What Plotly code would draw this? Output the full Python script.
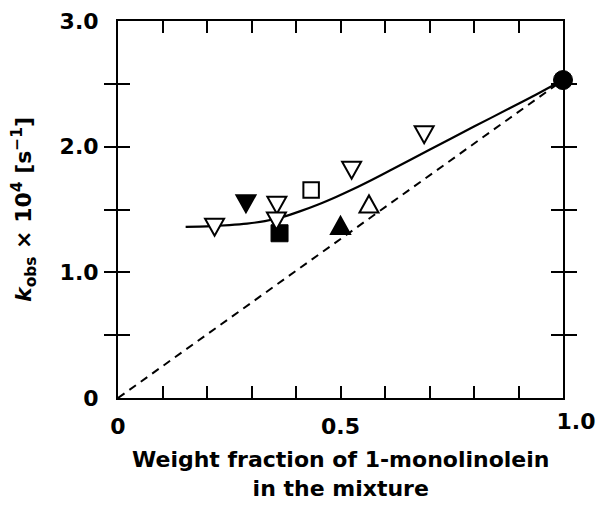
import plotly.graph_objects as go

# ---------------- data ----------------
open_down_x = [0.217, 0.357, 0.356, 0.525, 0.688]
open_down_y = [1.382, 1.556, 1.431, 1.835, 2.118]
filled_down_x = [0.2875]
filled_down_y = [1.568]
open_up_x = [0.564]
open_up_y = [1.522]
filled_up_x = [0.500]
filled_up_y = [1.351]
open_square_x = [0.434]
open_square_y = [1.655]
filled_square_x = [0.363]
filled_square_y = [1.311]
pure_x = [1.0]
pure_y = [2.53]

fit_x = [0.152, 0.20, 0.25, 0.29, 0.33, 0.37, 0.41, 0.45, 0.49, 0.53, 0.57, 0.61,
         0.70, 0.80, 0.88, 0.94, 1.00]
fit_y = [1.362, 1.366, 1.376, 1.388, 1.407, 1.44, 1.487, 1.54, 1.60, 1.665, 1.735, 1.808,
         1.975, 2.16, 2.305, 2.415, 2.53]

additive_x = [0.0, 1.0]
additive_y = [0.0, 2.53]

x_tickvals = [0, 0.1, 0.2, 0.3, 0.4, 0.5, 0.6, 0.7, 0.8, 0.9, 1.0]
x_ticktext = ["0", "", "", "", "", "0.5", "", "", "", "", ""]
x_end_tickvals = [1.0]
x_end_ticktext = ["1.0"]
y_tickvals = [0, 0.5, 1.0, 1.5, 2.0, 2.5, 3.0]
y_ticktext = ["0", "", "1.0", "", "2.0", "", "3.0"]

x_title = "Weight fraction of 1-monolinolein<br>in the mixture"
y_title = "<i>k</i><sub>obs</sub> × 10<sup>4</sup> [s<sup>−1</sup>]"

FONT = "DejaVu Sans"

fig = go.Figure()

fig.add_trace(go.Scatter(x=additive_x, y=additive_y, mode="lines", xaxis="x2",
                         line=dict(color="black", width=2, dash="8px,6px"),
                         showlegend=False, hoverinfo="skip"))
fig.add_trace(go.Scatter(x=fit_x, y=fit_y, mode="lines",
                         line=dict(color="black", width=2.2, shape="spline", smoothing=0.6),
                         showlegend=False, hoverinfo="skip"))
fig.add_trace(go.Scatter(x=filled_square_x, y=filled_square_y, mode="markers",
                         marker=dict(symbol="square", size=17, color="black",
                                     line=dict(color="black", width=1)),
                         showlegend=False))
fig.add_trace(go.Scatter(x=open_square_x, y=open_square_y, mode="markers",
                         marker=dict(symbol="square", size=15.5, color="white",
                                     line=dict(color="black", width=2)),
                         showlegend=False))
fig.add_trace(go.Scatter(x=pure_x, y=pure_y, mode="markers",
                         marker=dict(symbol="circle", size=19, color="black",
                                     line=dict(color="black", width=1)),
                         showlegend=False, cliponaxis=False))

# triangles drawn as pixel-sized equilateral glyphs anchored at data values
W = 9.5
H = 17.0


def tri_path(up):
    if up:
        return f"M{-W},{-H/3:.2f} L{W},{-H/3:.2f} L0,{2*H/3:.2f} Z"
    return f"M{-W},{H/3:.2f} L{W},{H/3:.2f} L0,{-2*H/3:.2f} Z"


shapes = []
for xs, ys, up, fill in [
    (open_down_x, open_down_y, False, "white"),
    (filled_down_x, filled_down_y, False, "black"),
    (open_up_x, open_up_y, True, "white"),
    (filled_up_x, filled_up_y, True, "black"),
]:
    for xv, yv in zip(xs, ys):
        shapes.append(dict(type="path", xref="x", yref="y",
                           xsizemode="pixel", ysizemode="pixel",
                           xanchor=xv, yanchor=yv, path=tri_path(up),
                           fillcolor=fill, line=dict(color="black", width=2),
                           layer="above"))

tickfont = dict(family=FONT, size=22, color="black", weight="bold")
axis_common = dict(
    showline=True, linecolor="black", linewidth=2, mirror="allticks",
    ticks="inside", ticklen=12, tickwidth=2, tickcolor="black",
    showgrid=False, zeroline=False, tickfont=tickfont, automargin=False,
)

fig.update_layout(
    width=596, height=505,
    margin=dict(l=118, r=33, t=21, b=107),
    paper_bgcolor="white", plot_bgcolor="white",
    shapes=shapes,
    xaxis=dict(range=[0, 1.0], tickmode="array", tickvals=x_tickvals, ticktext=x_ticktext,
               ticklabelstandoff=8, **axis_common),
    xaxis2=dict(overlaying="x", matches="x", anchor="y", side="bottom",
                range=[0, 1.0], tickmode="array", tickvals=x_end_tickvals,
                ticktext=x_end_ticktext, ticklabelstandoff=8, ticklabelshift=13,
                showline=False, ticks="inside", ticklen=12, tickwidth=2, tickcolor="black",
                showgrid=False, zeroline=False, tickfont=tickfont, automargin=False),
    yaxis=dict(range=[0, 3.0], tickmode="array", tickvals=y_tickvals, ticktext=y_ticktext,
               ticklabelstandoff=13,
               title=dict(text=y_title,
                          font=dict(family=FONT, size=22, color="black", weight="bold"),
                          standoff=22),
               **axis_common),
    annotations=[dict(text=x_title, xref="paper", yref="paper", x=0.5, y=0,
                      xanchor="center", yanchor="top", yshift=-47, showarrow=False,
                      font=dict(family=FONT, size=22, color="black", weight="bold"))],
    showlegend=False,
)

fig.write_html("out.html")
